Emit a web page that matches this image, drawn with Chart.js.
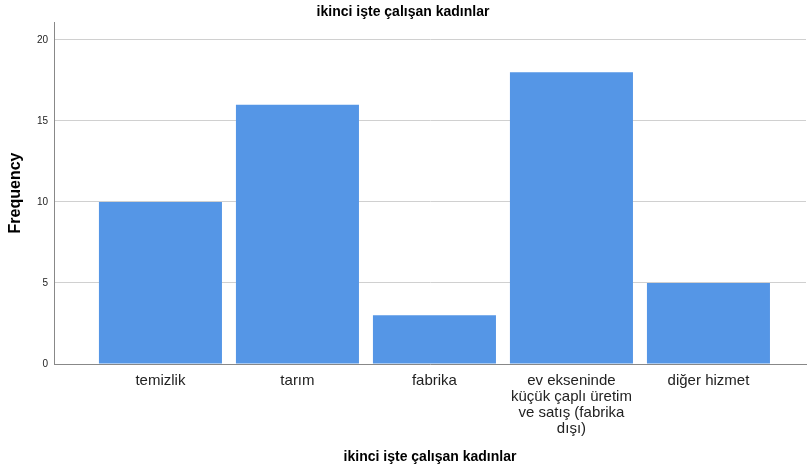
<!DOCTYPE html>
<html>
<head>
<meta charset="utf-8">
<script src="https://cdn.jsdelivr.net/npm/chart.js@4"></script>
<style>
html,body{margin:0;padding:0;background:#fff;}
#wrap{width:807px;height:474px;position:relative;}
</style>
</head>
<body>
<div id="wrap"><canvas id="c" width="807" height="474"></canvas></div>
<script>
const chartTitle = "ikinci işte çalışan kadınlar";
const xAxisTitle = "ikinci işte çalışan kadınlar";
const yAxisTitle = "Frequency";
const categories = [
  ["temizlik"],
  ["tarım"],
  ["fabrika"],
  ["ev ekseninde", "küçük çaplı üretim", "ve satış (fabrika", "dışı)"],
  ["diğer hizmet"]
];
const frequencies = [10, 16, 3, 18, 5];
const yTicks = [0, 5, 10, 15, 20];

const FONT = "'Liberation Sans', Arial, sans-serif";

new Chart(document.getElementById('c'), {
  type: 'bar',
  data: {
    datasets: [{
      data: frequencies.map((v, i) => ({x: i, y: v})),
      backgroundColor: '#5596e6',
      borderWidth: 0,
      categoryPercentage: 1,
      barPercentage: 0.898
    }]
  },
  options: {
    responsive: false,
    animation: false,
    layout: {padding: {left: 0, right: 1, top: 0, bottom: 0}},
    plugins: {
      legend: {display: false},
      tooltip: {enabled: false},
      title: {
        display: true,
        text: chartTitle,
        color: '#000',
        font: {family: FONT, size: 14, weight: 'bold', lineHeight: 1.2},
        padding: {top: 4, bottom: 1.2}
      }
    },
    scales: {
      x: {
        type: 'linear',
        offset: false,
        min: -0.777,
        max: 4.712,
        grid: {display: false, drawTicks: false, offset: false},
        border: {display: true, color: '#888', width: 1},
        afterBuildTicks: (s) => { s.ticks = categories.map((c, i) => ({value: i})); },
        afterFit: (s) => { s.height = 110; },
        ticks: {
          autoSkip: false,
          maxRotation: 0,
          padding: 9,
          color: '#222',
          font: {family: FONT, size: 15, lineHeight: 1.07},
          callback: (v) => categories[v]
        },
        title: {
          display: true,
          text: xAxisTitle,
          color: '#000',
          font: {family: FONT, size: 14, weight: 'bold', lineHeight: 1.2},
          padding: {top: 4, bottom: 8}
        }
      },
      y: {
        type: 'linear',
        min: 0,
        max: 21.1,
        grid: {color: '#d0d0d0', lineWidth: 1, drawTicks: false},
        border: {display: true, color: '#888', width: 1},
        afterBuildTicks: (s) => { s.ticks = yTicks.map(v => ({value: v})); },
        afterFit: (s) => { s.width = 54; },
        ticks: {
          padding: 6,
          color: '#222',
          font: {family: FONT, size: 10}
        },
        title: {
          display: true,
          text: yAxisTitle,
          color: '#000',
          font: {family: FONT, size: 16, weight: 'bold', lineHeight: 1.2},
          padding: {top: 6, bottom: 0}
        }
      }
    }
  }
});
</script>
</body>
</html>
